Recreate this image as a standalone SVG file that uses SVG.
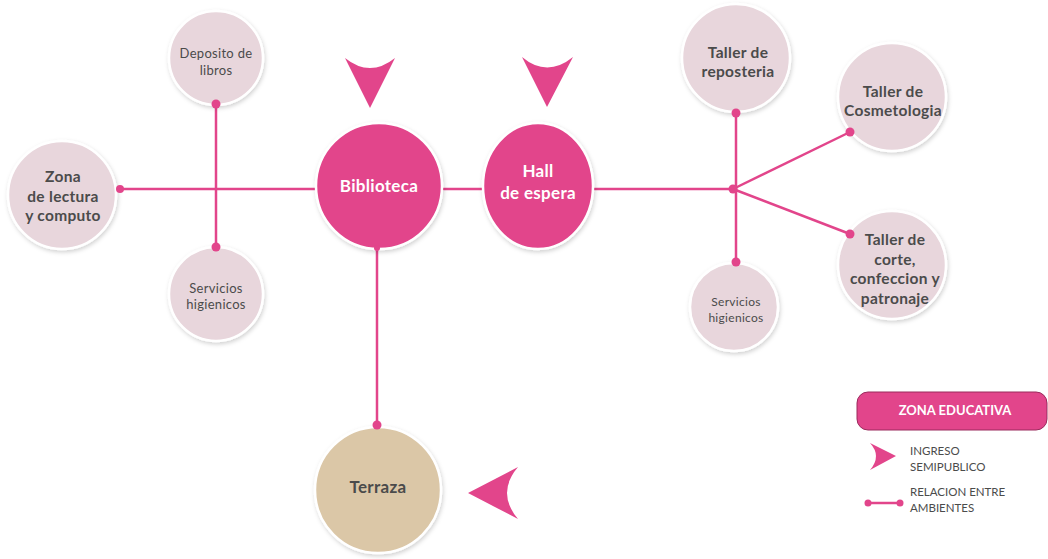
<svg xmlns="http://www.w3.org/2000/svg" width="1048" height="559" viewBox="0 0 1048 559">
<defs>
<filter id="sh" x="-20%" y="-20%" width="140%" height="140%">
<feDropShadow dx="1" dy="2" stdDeviation="2" flood-color="#000" flood-opacity="0.18"/>
</filter>
<style>
.lt{fill:#e8d6dc;stroke:#fff;stroke-width:2.5;filter:url(#sh)}
.pk{fill:#e2458b;stroke:#fff;stroke-width:2.5;filter:url(#sh)}
.tn{fill:#dbc7a7;stroke:#fff;stroke-width:2.5;filter:url(#sh)}
.t{font-family:"Lato","Liberation Sans",sans-serif;text-anchor:middle;fill:#4b4b4b;letter-spacing:0.3px}
.b{font-weight:bold;font-size:15.5px}
.s{font-size:13px}
.w{fill:#fff;font-weight:bold;font-size:17px}
.ln{stroke:#e2458b;stroke-width:2.5;fill:none}
.dot{fill:#e2458b}
.ar{fill:#e2458b}
.lg{font-family:"Lato","Liberation Sans",sans-serif;font-size:11.5px;fill:#4b4b4b}
</style>
</defs>
<rect width="1048" height="559" fill="#fff"/>

<g id="connectors">
<line class="ln" x1="120" y1="189" x2="316" y2="189"/>
<line class="ln" x1="216" y1="104" x2="216" y2="247"/>
<line class="ln" x1="442" y1="189" x2="484" y2="189"/>
<line class="ln" x1="592" y1="189" x2="733" y2="189"/>
<line class="ln" x1="736" y1="113" x2="736" y2="262"/>
<line class="ln" x1="733" y1="189" x2="850" y2="132"/>
<line class="ln" x1="733" y1="189" x2="850" y2="234"/>
<line class="ln" x1="377" y1="248" x2="377" y2="425"/>
</g>

<g id="deposito">
<circle class="lt" cx="216" cy="58" r="47"/>
<text class="t s" x="216" y="58">Deposito de</text>
<text class="t s" x="216" y="75">libros</text>
</g>
<g id="zona-lectura">
<circle class="lt" cx="62" cy="195" r="54"/>
<text class="t b" x="63" y="182">Zona</text>
<text class="t b" x="63" y="202">de lectura</text>
<text class="t b" x="63" y="221">y computo</text>
</g>
<g id="servicios-1">
<circle class="lt" cx="216" cy="294" r="47"/>
<text class="t s" x="216" y="293">Servicios</text>
<text class="t s" x="216" y="309">higienicos</text>
</g>
<g id="biblioteca">
<circle class="pk" cx="379" cy="186" r="63"/>
<text class="t w" x="379" y="192">Biblioteca</text>
</g>
<g id="hall">
<ellipse class="pk" cx="538" cy="186" rx="55" ry="63"/>
<text class="t w" x="538" y="177">Hall</text>
<text class="t w" x="538" y="199">de espera</text>
</g>
<g id="reposteria">
<circle class="lt" cx="736" cy="58" r="54"/>
<text class="t b" x="738" y="58">Taller de</text>
<text class="t b" x="738" y="77">reposteria</text>
</g>
<g id="cosmetologia">
<circle class="lt" cx="892" cy="97" r="54"/>
<text class="t b" x="893" y="97">Taller de</text>
<text class="t b" x="893" y="116">Cosmetologia</text>
</g>
<g id="corte">
<circle class="lt" cx="892" cy="265" r="54"/>
<text class="t b" x="895" y="245">Taller de</text>
<text class="t b" x="895" y="265">corte,</text>
<text class="t b" x="895" y="284">confeccion y</text>
<text class="t b" x="895" y="304">patronaje</text>
</g>
<g id="servicios-2">
<circle class="lt" cx="734" cy="307" r="44"/>
<text class="t" font-size="12" x="736" y="306">Servicios</text>
<text class="t" font-size="12" x="736" y="322">higienicos</text>
</g>
<g id="terraza">
<circle class="tn" cx="378" cy="490" r="63"/>
<text class="t" font-weight="bold" font-size="17" x="378" y="493">Terraza</text>
</g>

<g id="dots">
<circle class="dot" cx="120" cy="189" r="4"/>
<circle class="dot" cx="216" cy="104" r="4.5"/>
<circle class="dot" cx="216" cy="247" r="4.5"/>
<circle class="dot" cx="377" cy="248" r="3"/>
<circle class="dot" cx="377" cy="425" r="4.5"/>
<circle class="dot" cx="736" cy="113" r="4.5"/>
<circle class="dot" cx="733" cy="189" r="4.5"/>
<circle class="dot" cx="850" cy="132" r="4.5"/>
<circle class="dot" cx="850" cy="234" r="4.5"/>
<circle class="dot" cx="736" cy="262" r="4.5"/>
</g>

<g id="entries">
<path class="ar" d="M345,58 Q370,78 395,58 L370,108 Z"/>
<path class="ar" d="M522,57 Q547,78 573,57 L547,107 Z"/>
<path class="ar" d="M518,467 Q496,493 518,519 L468,493 Z"/>
</g>

<g id="legend">
<rect x="857" y="392" width="190" height="38" rx="11" fill="#e2458b" stroke="#9a2a5c" stroke-width="1"/>
<text x="955" y="415" font-family="Lato,'Liberation Sans',sans-serif" font-weight="bold" font-size="13" fill="#fff" text-anchor="middle">ZONA EDUCATIVA</text>
<path class="ar" d="M870,443 Q882,456 870,470 L896,456 Z"/>
<text class="lg" x="910" y="455">INGRESO</text>
<text class="lg" x="910" y="471">SEMIPUBLICO</text>
<line class="ln" x1="868" y1="503" x2="900" y2="503"/>
<circle class="dot" cx="868" cy="503" r="3.5"/>
<circle class="dot" cx="900" cy="503" r="3.5"/>
<text class="lg" x="910" y="496">RELACION ENTRE</text>
<text class="lg" x="910" y="512">AMBIENTES</text>
</g>
</svg>
